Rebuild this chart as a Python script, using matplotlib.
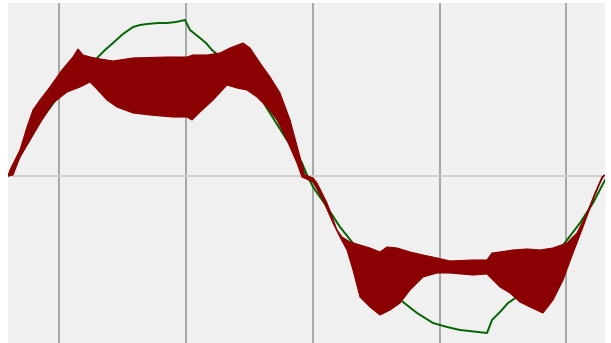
import numpy as np
import matplotlib
matplotlib.use("Agg")
import matplotlib.pyplot as plt

# reference signal (green), sample index vs amplitude
ref_x = [0, 2, 35, 50, 64, 77, 89, 97, 105, 115, 125, 132, 139, 150, 159, 168,
         177, 182, 187, 192, 198, 204, 210, 222, 237, 252, 260, 277, 294, 299,
         305, 319, 332, 344, 362, 377, 395, 409, 425, 439, 452, 479, 484, 492,
         500, 509, 532, 559, 572, 585, 597]
ref_y = [0, 3, 59, 79, 89, 104, 118, 126, 133, 142, 149, 151, 152, 153, 153, 154,
         156, 146, 142, 138, 133, 126, 121, 108, 94, 79, 66, 39, 13, 1,
         -11, -31, -51, -66, -89, -109, -126, -137, -147, -151, -154, -157, -144, -136,
         -127, -121, -99, -64, -47, -27, -4]

# envelope of the oscillating output (red band)
up_x = [0, 2, 12, 19, 25, 32, 42, 54, 65, 70, 75, 82, 92, 105, 125, 159, 179,
        185, 199, 212, 222, 235, 242, 252, 262, 272, 282, 292, 297, 305, 309,
        319, 329, 334, 342, 352, 362, 372, 379, 389, 402, 415, 429, 442, 465,
        479, 484, 492, 505, 519, 532, 545, 559, 569, 579, 587, 594, 597]
up_y = [0, 6, 26, 49, 66, 76, 89, 106, 119, 127, 121, 119, 117, 115, 118, 119, 119,
        121, 121, 123, 128, 133, 128, 113, 99, 83, 56, 19, 1, -2, -7,
        -27, -54, -61, -66, -69, -72, -76, -71, -72, -76, -79, -82, -85, -84,
        -84, -77, -76, -74, -73, -74, -72, -67, -57, -37, -17, -1, 1]
lo_x = [0, 5, 12, 22, 32, 45, 59, 72, 82, 87, 99, 109, 125, 142, 165, 179, 184,
        192, 205, 219, 229, 239, 249, 259, 269, 279, 289, 294, 305, 315, 325,
        332, 339, 345, 352, 362, 372, 382, 392, 402, 415, 429, 442, 465, 479,
        485, 492, 502, 512, 522, 535, 545, 555, 565, 575, 585, 592, 595, 597]
lo_y = [0, 1, 19, 36, 53, 73, 84, 89, 94, 89, 76, 69, 63, 61, 59, 59, 56,
        64, 76, 91, 88, 86, 79, 69, 56, 36, 13, -1, -6, -24, -47,
        -61, -74, -94, -121, -131, -139, -134, -127, -114, -101, -97, -97, -99, -98,
        -104, -111, -117, -126, -131, -137, -124, -104, -77, -51, -24, -7, -1, 1]

grid_x = [51, 178, 305, 432, 558]

fig = plt.figure(figsize=(6.11, 3.43), dpi=100)
fig.patch.set_facecolor("white")
ax = fig.add_axes([8 / 611, 0, 597 / 611, 340 / 343])
ax.set_facecolor("#f0f0f0")

for gx in grid_x:
    ax.axvline(gx, color="#a6a6a6", lw=1.4, zorder=0)
ax.axhline(0, color="#d0d0d0", lw=1.4, zorder=0)

ax.plot(ref_x, ref_y, color="#006400", lw=1.4, zorder=2)
ax.fill(np.r_[up_x, lo_x[::-1]], np.r_[up_y, lo_y[::-1]],
        color="#8b0000", lw=0.8, ec="#8b0000", zorder=3)

ax.set_xlim(0, 597)
ax.set_ylim(-167, 173)
ax.set_xticks([])
ax.set_yticks([])
for s in ax.spines.values():
    s.set_visible(False)

fig.savefig("out.png", dpi=100)
